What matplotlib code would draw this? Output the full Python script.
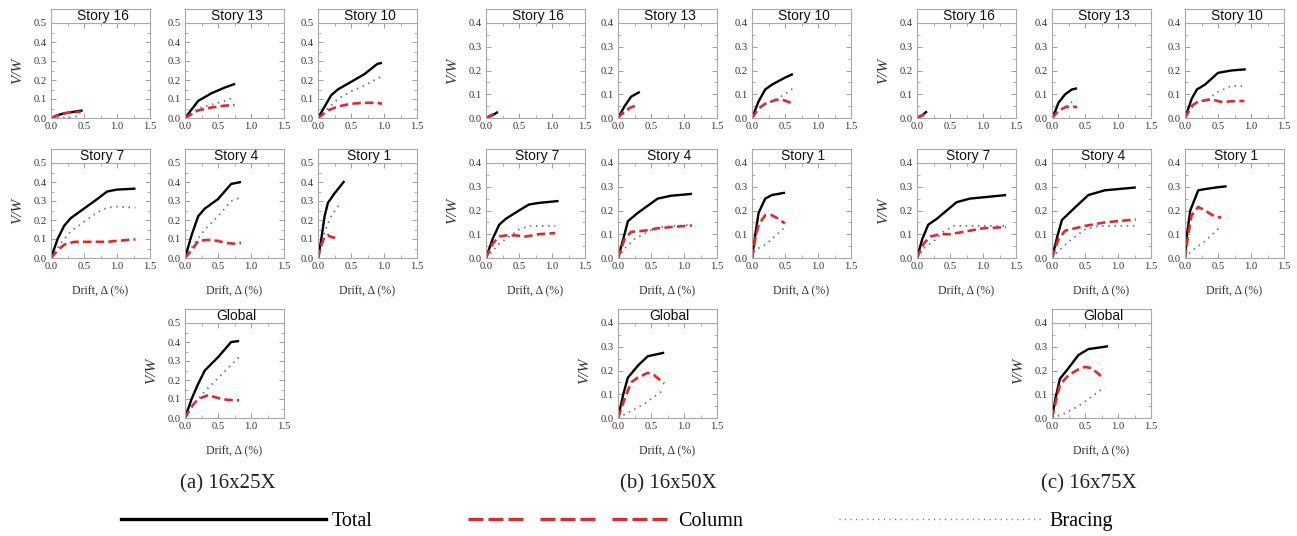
import matplotlib
matplotlib.use("Agg")
import matplotlib.pyplot as plt
from matplotlib.ticker import MultipleLocator
from matplotlib.lines import Line2D

# ---------------------------------------------------------------------------
# Story shear ratio V/W versus inter-story drift (%) for three buildings.
# Each entry: panel -> (drift values, V/W values)
# ---------------------------------------------------------------------------
PANELS = ["Story 16", "Story 13", "Story 10", "Story 7", "Story 4", "Story 1", "Global"]

total_25x = {
    "Story 16": ([0, 0.1, 0.2, 0.3, 0.48], [0, 0.015, 0.025, 0.03, 0.04]),
    "Story 13": ([0, 0.2, 0.4, 0.6, 0.76], [0, 0.09, 0.13, 0.16, 0.18]),
    "Story 10": ([0, 0.2, 0.3, 0.5, 0.7, 0.9, 0.97], [0, 0.12, 0.15, 0.19, 0.23, 0.285, 0.29]),
    "Story 7": ([0, 0.1, 0.2, 0.3, 0.5, 0.7, 0.85, 1.0, 1.28], [0, 0.1, 0.17, 0.21, 0.26, 0.31, 0.35, 0.36, 0.365]),
    "Story 4": ([0, 0.1, 0.2, 0.3, 0.5, 0.7, 0.85], [0, 0.12, 0.22, 0.26, 0.31, 0.39, 0.40]),
    "Story 1": ([0, 0.05, 0.1, 0.15, 0.25, 0.4], [0, 0.1, 0.22, 0.29, 0.34, 0.405]),
    "Global": ([0, 0.1, 0.2, 0.3, 0.5, 0.7, 0.82], [0, 0.1, 0.18, 0.25, 0.32, 0.40, 0.405]),
}
column_25x = {
    "Story 16": ([0, 0.15, 0.3, 0.45], [0, 0.02, 0.03, 0.032]),
    "Story 13": ([0, 0.2, 0.4, 0.6, 0.75], [0, 0.04, 0.055, 0.065, 0.068]),
    "Story 10": ([0, 0.15, 0.3, 0.5, 0.7, 0.9, 0.97], [0, 0.04, 0.06, 0.075, 0.08, 0.08, 0.075]),
    "Story 7": ([0, 0.1, 0.2, 0.35, 0.6, 0.85, 1.0, 1.28], [0, 0.04, 0.07, 0.085, 0.085, 0.085, 0.09, 0.098]),
    "Story 4": ([0, 0.1, 0.2, 0.35, 0.5, 0.6, 0.75, 0.85], [0, 0.04, 0.09, 0.095, 0.09, 0.08, 0.075, 0.08]),
    "Story 1": ([0, 0.05, 0.1, 0.15, 0.2, 0.28], [0, 0.07, 0.11, 0.12, 0.11, 0.105]),
    "Global": ([0, 0.1, 0.2, 0.35, 0.5, 0.65, 0.82], [0, 0.06, 0.1, 0.12, 0.105, 0.095, 0.093]),
}
bracing_25x = {
    "Story 16": ([0, 0.1, 0.25, 0.35, 0.45], [0, 0.005, 0.0, 0.005, 0.015]),
    "Story 13": ([0, 0.2, 0.4, 0.6, 0.75], [0, 0.05, 0.07, 0.09, 0.11]),
    "Story 10": ([0, 0.15, 0.3, 0.5, 0.7, 0.97], [0, 0.05, 0.1, 0.14, 0.17, 0.22]),
    "Story 7": ([0, 0.15, 0.3, 0.5, 0.7, 0.85, 1.0, 1.28], [0, 0.08, 0.14, 0.19, 0.24, 0.265, 0.27, 0.265]),
    "Story 4": ([0, 0.15, 0.3, 0.5, 0.7, 0.85], [0, 0.08, 0.15, 0.22, 0.3, 0.32]),
    "Story 1": ([0, 0.05, 0.1, 0.2, 0.3, 0.35], [0, 0.05, 0.14, 0.22, 0.27, 0.29]),
    "Global": ([0, 0.15, 0.3, 0.5, 0.7, 0.82], [0, 0.08, 0.14, 0.21, 0.28, 0.32]),
}

total_50x = {
    "Story 16": ([0, 0.1, 0.18], [0, 0.012, 0.025]),
    "Story 13": ([0, 0.1, 0.2, 0.33], [0, 0.05, 0.09, 0.11]),
    "Story 10": ([0, 0.1, 0.2, 0.3, 0.5, 0.62], [0, 0.07, 0.12, 0.14, 0.17, 0.185]),
    "Story 7": ([0, 0.1, 0.2, 0.3, 0.5, 0.65, 0.8, 1.1], [0, 0.08, 0.14, 0.165, 0.2, 0.225, 0.232, 0.24]),
    "Story 4": ([0, 0.08, 0.15, 0.3, 0.6, 0.8, 1.12], [0, 0.08, 0.155, 0.19, 0.25, 0.262, 0.27]),
    "Story 1": ([0, 0.05, 0.1, 0.2, 0.3, 0.5], [0, 0.1, 0.19, 0.25, 0.265, 0.275]),
    "Global": ([0, 0.08, 0.15, 0.3, 0.45, 0.7], [0, 0.1, 0.17, 0.22, 0.26, 0.275]),
}
column_50x = {
    "Story 16": ([0, 0.1, 0.18], [0, 0.015, 0.027]),
    "Story 13": ([0, 0.1, 0.2, 0.3], [0, 0.03, 0.045, 0.055]),
    "Story 10": ([0, 0.1, 0.2, 0.35, 0.45, 0.55, 0.62], [0, 0.04, 0.06, 0.075, 0.078, 0.068, 0.06]),
    "Story 7": ([0, 0.1, 0.2, 0.3, 0.45, 0.6, 0.8, 1.05], [0, 0.06, 0.09, 0.095, 0.095, 0.09, 0.1, 0.105]),
    "Story 4": ([0, 0.1, 0.2, 0.4, 0.6, 0.8, 1.12], [0, 0.08, 0.11, 0.115, 0.125, 0.13, 0.137]),
    "Story 1": ([0, 0.05, 0.1, 0.2, 0.3, 0.4, 0.5], [0, 0.08, 0.14, 0.18, 0.18, 0.165, 0.145]),
    "Global": ([0, 0.1, 0.2, 0.3, 0.45, 0.55, 0.7], [0, 0.08, 0.15, 0.17, 0.19, 0.18, 0.145]),
}
bracing_50x = {
    "Story 16": ([0, 0.1, 0.15], [0, 0.01, 0.02]),
    "Story 13": ([0, 0.1, 0.2, 0.3], [0, 0.02, 0.04, 0.055]),
    "Story 10": ([0, 0.15, 0.3, 0.5, 0.62], [0, 0.05, 0.07, 0.1, 0.125]),
    "Story 7": ([0, 0.1, 0.2, 0.35, 0.5, 0.65, 1.05], [0, 0.03, 0.06, 0.09, 0.12, 0.135, 0.135]),
    "Story 4": ([0, 0.1, 0.25, 0.45, 0.6, 1.12], [0, 0.04, 0.08, 0.11, 0.13, 0.14]),
    "Story 1": ([0, 0.05, 0.2, 0.3, 0.5], [0, 0.035, 0.055, 0.08, 0.13]),
    "Global": ([0, 0.2, 0.4, 0.55, 0.7], [0, 0.03, 0.06, 0.09, 0.12]),
}

total_75x = {
    "Story 16": ([0, 0.08, 0.15], [0, 0.012, 0.028]),
    "Story 13": ([0, 0.05, 0.1, 0.2, 0.3, 0.38], [0, 0.03, 0.065, 0.1, 0.12, 0.125]),
    "Story 10": ([0, 0.1, 0.18, 0.3, 0.5, 0.7, 0.92], [0, 0.08, 0.12, 0.14, 0.19, 0.2, 0.205]),
    "Story 7": ([0, 0.08, 0.17, 0.3, 0.6, 0.8, 1.35], [0, 0.08, 0.14, 0.165, 0.235, 0.25, 0.265]),
    "Story 4": ([0, 0.08, 0.15, 0.3, 0.55, 0.8, 1.27], [0, 0.09, 0.16, 0.2, 0.265, 0.285, 0.297]),
    "Story 1": ([0, 0.03, 0.08, 0.2, 0.3, 0.5, 0.63], [0, 0.1, 0.2, 0.285, 0.29, 0.298, 0.302]),
    "Global": ([0, 0.05, 0.12, 0.25, 0.4, 0.55, 0.85], [0, 0.08, 0.165, 0.21, 0.265, 0.29, 0.302]),
}
column_75x = {
    "Story 16": ([0, 0.1, 0.15], [0, 0.015, 0.02]),
    "Story 13": ([0, 0.1, 0.2, 0.3, 0.38], [0, 0.03, 0.045, 0.05, 0.045]),
    "Story 10": ([0, 0.1, 0.2, 0.4, 0.55, 0.7, 0.9], [0, 0.05, 0.07, 0.078, 0.068, 0.07, 0.072]),
    "Story 7": ([0, 0.1, 0.2, 0.35, 0.5, 0.7, 1.0, 1.35], [0, 0.06, 0.09, 0.1, 0.1, 0.11, 0.125, 0.13]),
    "Story 4": ([0, 0.1, 0.2, 0.5, 0.8, 1.27], [0, 0.08, 0.115, 0.135, 0.15, 0.162]),
    "Story 1": ([0, 0.05, 0.1, 0.2, 0.3, 0.45, 0.55], [0, 0.1, 0.18, 0.215, 0.2, 0.175, 0.17]),
    "Global": ([0, 0.05, 0.12, 0.25, 0.4, 0.5, 0.6, 0.75], [0, 0.06, 0.14, 0.18, 0.205, 0.215, 0.21, 0.175]),
}
bracing_75x = {
    "Story 16": ([0, 0.1, 0.12], [0, 0.01, 0.015]),
    "Story 13": ([0, 0.1, 0.25, 0.35], [0, 0.03, 0.055, 0.08]),
    "Story 10": ([0, 0.15, 0.35, 0.5, 0.7, 0.9], [0, 0.06, 0.08, 0.11, 0.135, 0.135]),
    "Story 7": ([0, 0.1, 0.25, 0.4, 0.55, 1.35], [0, 0.04, 0.07, 0.11, 0.135, 0.135]),
    "Story 4": ([0, 0.1, 0.3, 0.5, 0.7, 1.27], [0, 0.03, 0.08, 0.12, 0.135, 0.135]),
    "Story 1": ([0, 0.1, 0.3, 0.55], [0, 0.03, 0.07, 0.135]),
    "Global": ([0, 0.2, 0.4, 0.6, 0.8], [0, 0.02, 0.05, 0.09, 0.13]),
}

captions = ["(a) 16x25X", "(b) 16x50X", "(c) 16x75X"]
y_tops = [0.5, 0.4, 0.4]
series_labels = ["Total", "Column", "Bracing"]

buildings = [
    (total_25x, column_25x, bracing_25x),
    (total_50x, column_50x, bracing_50x),
    (total_75x, column_75x, bracing_75x),
]

# ---------------------------------------------------------------------------
# Layout (pixels)
# ---------------------------------------------------------------------------
W, H = 1297, 536
fig = plt.figure(figsize=(W / 100, H / 100), dpi=100)

SERIF = ["Liberation Serif", "DejaVu Serif"]
SANS = ["Liberation Sans", "DejaVu Sans"]

col_left = [[51, 185, 318], [486, 618, 752], [917, 1052, 1185]]
row_top = [23, 163, 323]
PW, PH, STRIP = 99, 95, 14.5
caption_x = [228, 668, 1089]
FRAME = "#a8a8a8"

styles = {
    "Total": dict(color="black", lw=1.7, ls="-"),
    "Column": dict(color="#e8262a", lw=1.9, ls=(0, (3.2, 1.6))),
    "Bracing": dict(color="#5566dd", lw=1.3, ls=(0, (0.8, 2.6))),
}


def fig_rect(left_px, top_px, w_px, h_px):
    return [left_px / W, 1 - (top_px + h_px) / H, w_px / W, h_px / H]


for b, (tot, col, brc) in enumerate(buildings):
    for k, name in enumerate(PANELS):
        if k < 6:
            r, c = divmod(k, 3)
        else:
            r, c = 2, 1
        left = col_left[b][c]
        top = row_top[r]
        ax = fig.add_axes(fig_rect(left, top, PW, PH))
        for lab, data in zip(series_labels, (tot, col, brc)):
            x, y = data[name]
            ax.plot(x, y, solid_capstyle="butt", dash_capstyle="butt", **styles[lab])
        ax.set_xlim(0, 1.5)
        ax.set_ylim(0, y_tops[b])
        ax.xaxis.set_major_locator(MultipleLocator(0.5))
        ax.xaxis.set_minor_locator(MultipleLocator(0.25))
        ax.yaxis.set_major_locator(MultipleLocator(0.1))
        ax.yaxis.set_minor_locator(MultipleLocator(0.05))
        ax.xaxis.set_major_formatter(plt.FuncFormatter(lambda v, p: f"{v:.1f}"))
        ax.yaxis.set_major_formatter(plt.FuncFormatter(lambda v, p: f"{v:.1f}"))
        ax.tick_params(which="both", direction="in", top=True, right=True,
                       color="#909090", labelsize=7.6, labelcolor="#333333", pad=3)
        ax.tick_params(which="major", length=3.5, width=0.6)
        ax.tick_params(which="minor", length=2, width=0.5)
        for lbl in ax.get_xticklabels() + ax.get_yticklabels():
            lbl.set_family(SERIF)
        for s in ax.spines.values():
            s.set_color(FRAME)
            s.set_linewidth(0.8)
        if c == 0 or k == 6:
            ax.set_ylabel("V/W", family=SERIF, style="italic", fontsize=11, color="#333333")
            ax.yaxis.set_label_coords(-0.27, 0.5)
        if r >= 1:
            ax.set_xlabel("Drift, \u0394 (%)", family=SERIF, fontsize=8.6, color="#333333")
            ax.xaxis.set_label_coords(0.5, -0.29)

        # facet strip with the panel name
        sax = fig.add_axes(fig_rect(left, top - STRIP, PW, STRIP))
        sax.set_xticks([])
        sax.set_yticks([])
        for s in sax.spines.values():
            s.set_color(FRAME)
            s.set_linewidth(0.8)
        sax.text(0.52, 0.45, name, ha="center", va="center", fontsize=10,
                 family=SANS, color="#111111", transform=sax.transAxes)

    fig.text(caption_x[b] / W, 1 - 484 / H, captions[b], ha="center", va="center",
             fontsize=15, family=SERIF, color="#222222")

handles = [
    Line2D([], [], color="black", lw=2.4, ls="-"),
    Line2D([], [], color="#e8262a", lw=2.4, ls=(0, (4.5, 1.5, 4.5, 1.5, 4.5, 5.1))),
    Line2D([], [], color="#5566dd", lw=1.0, ls=(0, (0.8, 3.2))),
]
fig.legend(handles, series_labels, loc="center", bbox_to_anchor=(617 / W, 1 - 521 / H),
           ncol=3, frameon=False, handlelength=10.2, handletextpad=0.25,
           columnspacing=4.75, borderpad=0, prop={"family": SERIF, "size": 14.5})

fig.savefig("out.png", dpi=100)
